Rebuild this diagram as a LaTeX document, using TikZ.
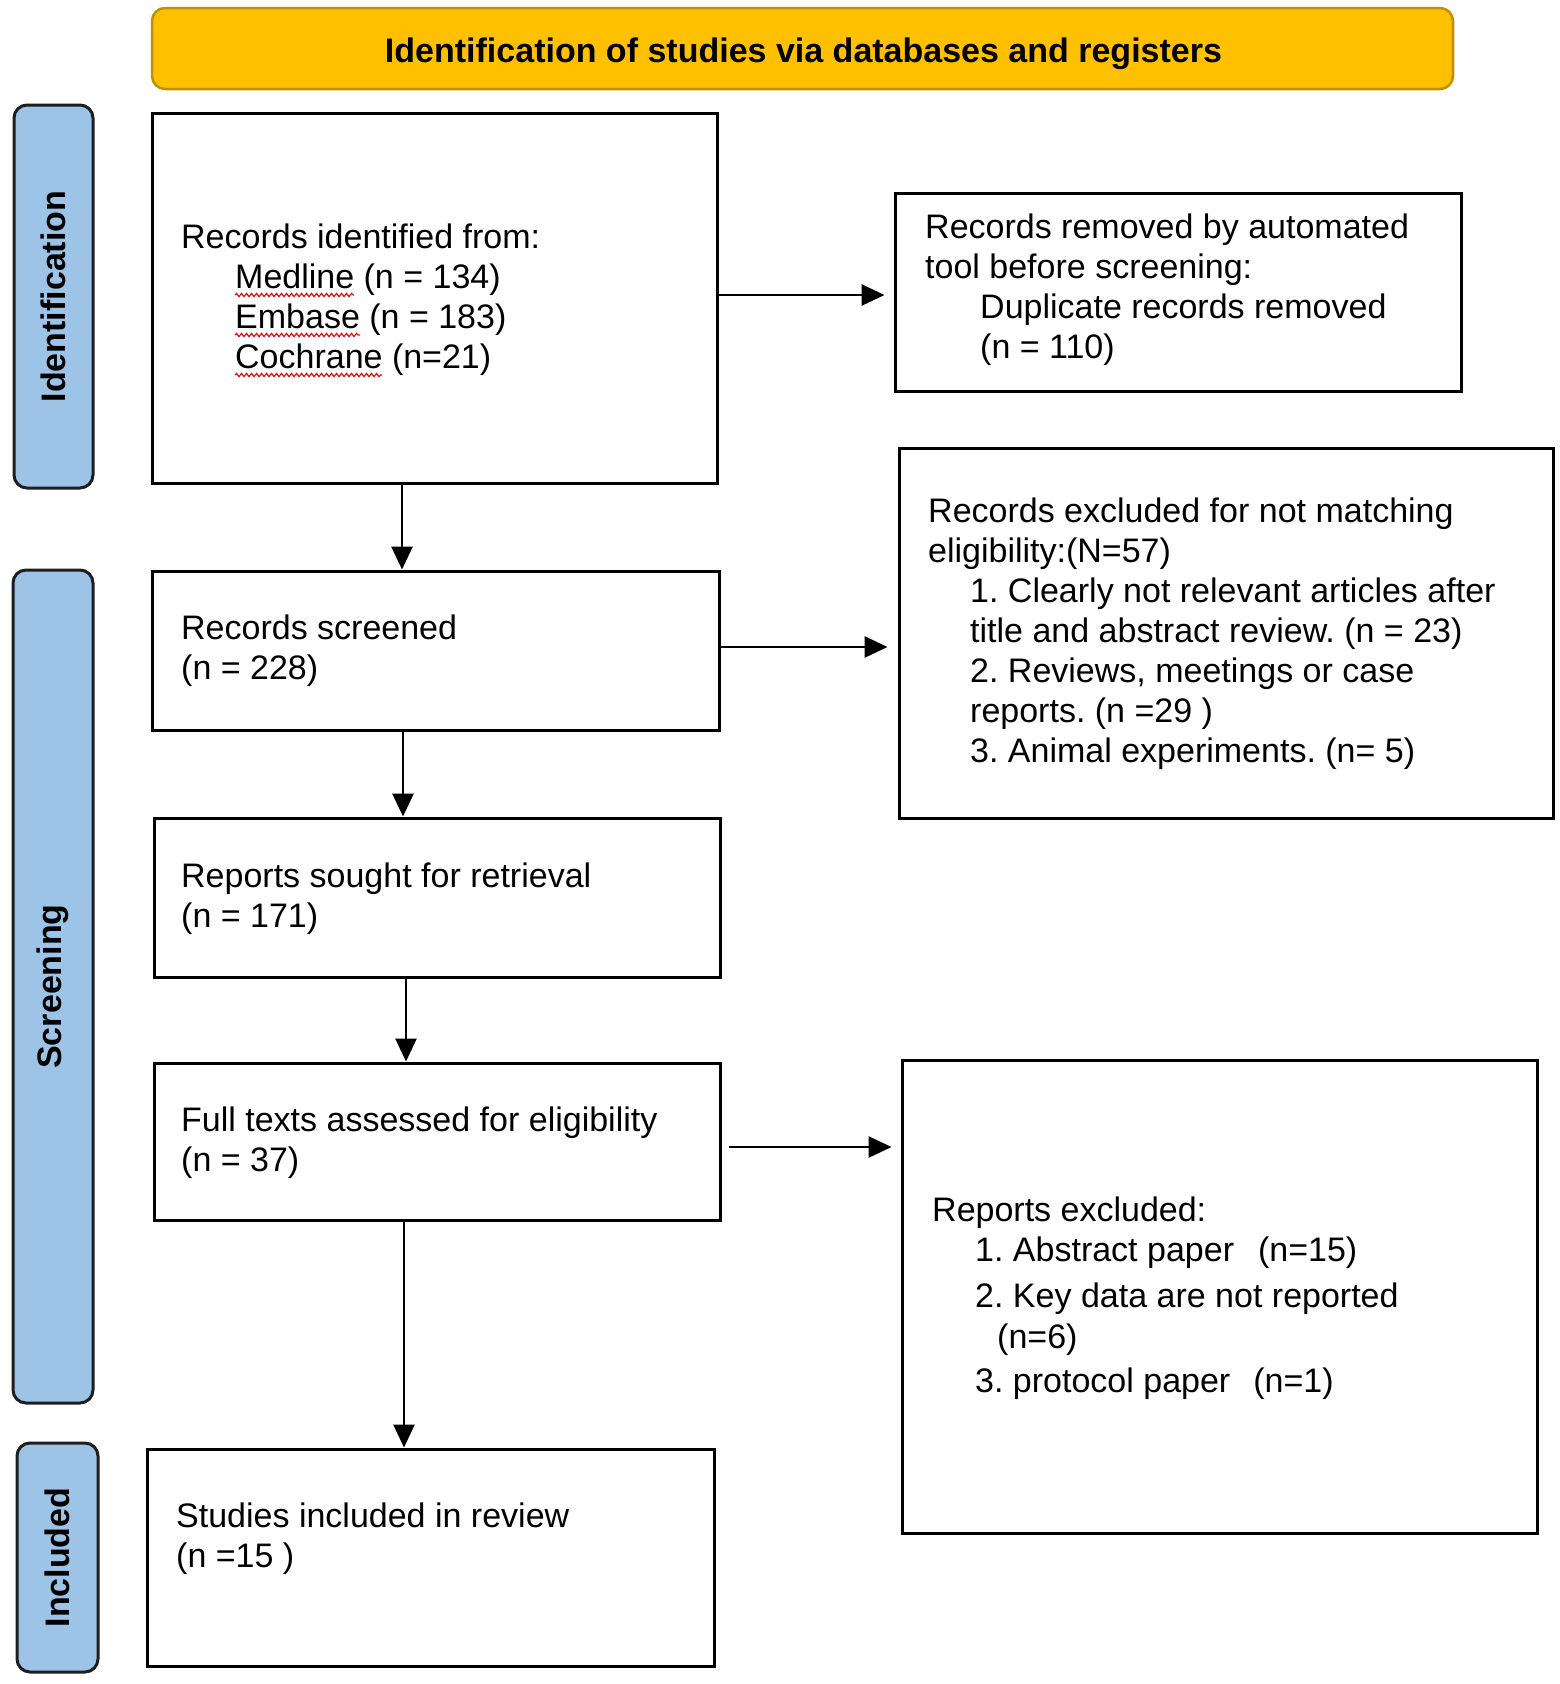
\documentclass[tikz,border=0pt]{standalone}
\usepackage{fontspec}
\setmainfont{Liberation Sans}
\usetikzlibrary{arrows.meta,decorations.pathmorphing}
\definecolor{hdrfill}{HTML}{FFC000}
\definecolor{hdrline}{HTML}{BF9000}
\definecolor{barfill}{HTML}{9DC3E6}
\definecolor{barline}{HTML}{1E1E1E}
\definecolor{spell}{HTML}{E01010}
\frenchspacing
\begin{document}
\begin{tikzpicture}[x=1pt,y=-1pt,
  box/.style={draw=black, line width=3pt, fill=white, inner sep=0pt},
  bar/.style={draw=barline, line width=3pt, fill=barfill, rounded corners=13pt, inner sep=0pt},
  hdr/.style={draw=hdrline, line width=2.5pt, fill=hdrfill, rounded corners=13pt, inner sep=0pt},
  hdrtxt/.style={anchor=base, inner sep=0pt, font=\fontsize{34}{40}\selectfont\bfseries},
  txt/.style={anchor=west, align=left, inner sep=0pt, font=\fontsize{34}{40}\selectfont},
  barlab/.style={rotate=90, inner sep=0pt, font=\fontsize{34}{40}\selectfont\bfseries},
  arr/.style={line width=2.8pt, -{Triangle[length=23pt,width=21pt]}},
  wavy/.style={draw=spell, line width=1.2pt, decorate, decoration={snake, amplitude=1.6pt, segment length=5pt}}
]
\useasboundingbox[fill=white] (0,0) rectangle (1559,1684);

% header
\node[hdr, minimum width=1301pt, minimum height=81pt] (hdr) at (802.5,48.5) {};
\node[hdrtxt] (hdrt) at (803.5,62) {Identification of studies via databases and registers};

% side bars
\node[bar, minimum width=79pt, minimum height=383pt] (idbar) at (53.5,296.5) {};
\node[barlab] (idlab) at (idbar.center) {Identification};
\node[bar, minimum width=80pt, minimum height=833pt] (scbar) at (53,986.5) {};
\node[barlab] (sclab) at (scbar.center) {Screening};
\node[bar, minimum width=81pt, minimum height=229pt] (inbar) at (57.5,1557.5) {};
\node[barlab] (inlab) at (inbar.center) {Included};

% boxes
\node[box, minimum width=565pt, minimum height=370pt] (b1) at (434.5,298) {};
\node[box, minimum width=566pt, minimum height=198pt] (rem) at (1178,292) {};
\node[box, minimum width=567pt, minimum height=159pt] (scr) at (435.5,650.5) {};
\node[box, minimum width=654pt, minimum height=370pt] (ex1) at (1226,633) {};
\node[box, minimum width=566pt, minimum height=159pt] (sou) at (437,897.5) {};
\node[box, minimum width=566pt, minimum height=157pt] (ful) at (437,1141.5) {};
\node[box, minimum width=635pt, minimum height=473pt] (rep) at (1219.5,1296.5) {};
\node[box, minimum width=567pt, minimum height=217pt] (inc) at (430.5,1557.5) {};

% texts
\node[txt] (b1t) at (181,300) {Records identified from:\\
\hspace*{54pt}Medline (n = 134)\\
\hspace*{54pt}Embase (n = 183)\\
\hspace*{54pt}Cochrane (n=21)};
\node[txt] (remt) at (925,290) {Records removed by automated\\
tool before screening:\\
\hspace*{55pt}Duplicate records removed\\
\hspace*{55pt}(n = 110)};
\node[txt] (scrt) at (181,651) {Records screened\\(n = 228)};
\node[txt] (ex1t) at (928,634) {Records excluded for not matching\\
eligibility:(N=57)\\
\hspace*{42pt}1. Clearly not relevant articles after\\
\hspace*{42pt}title and abstract review. (n = 23)\\
\hspace*{42pt}2. Reviews, meetings or case\\
\hspace*{42pt}reports. (n =29 )\\
\hspace*{42pt}3. Animal experiments. (n= 5)};
\node[txt] (sout) at (181,899) {Reports sought for retrieval\\(n = 171)};
\node[txt] (fult) at (181,1143) {Full texts assessed for eligibility\\(n = 37)};
\node[txt] (rept) at (932,1298) {Reports excluded:\\
\hspace*{43pt}1. Abstract paper\hspace*{24pt}(n=15)\\[6pt]
\hspace*{43pt}2. Key data are not reported\\[1pt]
\hspace*{65pt}(n=6)\\[4pt]
\hspace*{43pt}3. protocol paper\hspace*{23pt}(n=1)};
\node[txt] (inct) at (176,1539) {Studies included in review\\(n =15 )};

% spell-check underlines
\draw[wavy] (235,295) -- (354,295);
\draw[wavy] (235,335) -- (360,335);
\draw[wavy] (235,375) -- (382,375);

% arrows
\coordinate (xa) at (402,0);
\coordinate (xb) at (403,0);
\coordinate (xc) at (406,0);
\coordinate (xd) at (404,0);
\draw[arr] (b1.south -| xa) -- (scr.north -| xa);
\draw[arr] (scr.south -| xb) -- (sou.north -| xb);
\draw[arr] (sou.south -| xc) -- (ful.north -| xc);
\draw[arr] (ful.south -| xd) -- (inc.north -| xd);

\coordinate (ya) at (0,295);
\coordinate (yb) at (0,647);
\coordinate (yc) at (0,1147);
\draw[arr, shorten >=9pt] (b1.east |- ya) -- (rem.west |- ya);
\draw[arr, shorten >=10pt] (scr.east |- yb) -- (ex1.west |- yb);
\draw[arr, shorten >=9pt] ([xshift=7pt]ful.east |- yc) -- (rep.west |- yc);
\end{tikzpicture}
\end{document}
